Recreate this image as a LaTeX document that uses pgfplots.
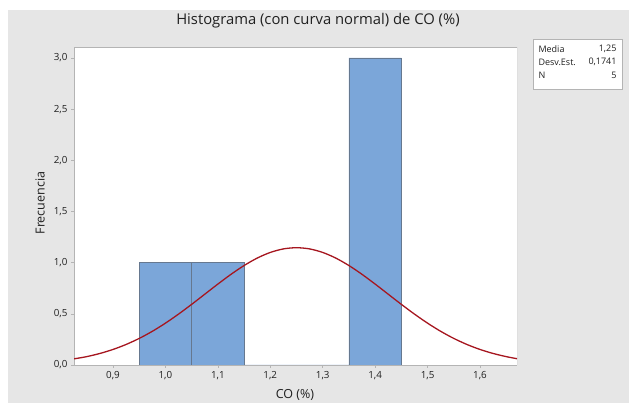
\documentclass[border=0pt]{standalone}
\usepackage{pgfplots}
\pgfplotsset{compat=1.18}
\usepackage{fontspec}
\setmainfont{Open Sans}
\definecolor{bgray}{HTML}{E6E6E6}
\definecolor{barfill}{HTML}{7BA6D9}
\definecolor{baredge}{HTML}{66788F}
\definecolor{curve}{HTML}{A6161F}
\definecolor{frame}{HTML}{B4B4B4}
\definecolor{txt}{HTML}{202020}
\begin{document}
\begin{tikzpicture}[x=1pt,y=1pt]
\useasboundingbox (0,0) rectangle (629,403);
\fill[white] (0,0) rectangle (629,403);
\fill[bgray] (8,0) rectangle (629,393);
\node[font=\fontsize{14.8}{17}\selectfont, text=txt] at (318,382) {Histograma (con curva normal) de CO (\%)};
\node[font=\fontsize{12.5}{14}\selectfont, text=txt] at (295,8) {CO (\%)};
\node[font=\fontsize{12.5}{14}\selectfont, rotate=90, text=txt] at (40,200) {Frecuencia};
\draw[frame, fill=white] (533,314) rectangle (622,364);
\node[font=\fontsize{9}{10}\selectfont, anchor=west, text=txt] at (535,354) {Media};
\node[font=\fontsize{9}{10}\selectfont, anchor=west, text=txt] at (535,341) {Desv.Est.};
\node[font=\fontsize{9}{10}\selectfont, anchor=west, text=txt] at (535,328) {N};
\node[font=\fontsize{9}{10}\selectfont, anchor=east, text=txt] at (620,354) {1,25};
\node[font=\fontsize{9}{10}\selectfont, anchor=east, text=txt] at (620,341) {0,1741};
\node[font=\fontsize{9}{10}\selectfont, anchor=east, text=txt] at (620,328) {5};
\begin{axis}[
  at={(74pt,38pt)}, anchor=south west,
  scale only axis, width=443pt, height=318pt,
  xmin=0.8256, xmax=1.6706, ymin=0, ymax=3.107,
  axis background/.style={fill=white},
  axis line style={frame},
  axis x line*=bottom, axis y line*=left,
  xtick={0.9,1.0,...,1.6}, ytick={0,0.5,...,3.0},
  xticklabels={{0,9},{1,0},{1,1},{1,2},{1,3},{1,4},{1,5},{1,6}},
  yticklabels={{0,0},{0,5},{1,0},{1,5},{2,0},{2,5},{3,0}},
  tick align=outside, tick style={frame, line width=0.6pt}, major tick length=3pt,
  ticklabel style={font=\fontsize{9.8}{11}\selectfont, text=txt},
  /pgf/number format/assume math mode=true,
  clip=true,
]
\draw[frame] (rel axis cs:0,0) rectangle (rel axis cs:1,1);
\addplot[ybar interval, fill=barfill, draw=baredge, line width=0.8pt] coordinates {
(0.95,1) (1.05,1) (1.15,0) (1.25,0) (1.35,3) (1.45,3)};
\addplot[curve, line width=1.3pt, smooth] coordinates {
(0.8256,0.0600)(0.85,0.0818)(0.875,0.1127)(0.9,0.1519)(0.925,0.2007)(0.95,0.2597)(0.975,0.3291)
(1.0,0.4088)(1.025,0.4973)(1.05,0.5924)(1.075,0.6915)(1.1,0.7906)(1.125,0.8856)
(1.15,0.9717)(1.175,1.0444)(1.2,1.0997)(1.225,1.1342)(1.25,1.1460)
(1.275,1.1342)(1.3,1.0997)(1.325,1.0444)(1.35,0.9717)(1.375,0.8856)(1.4,0.7906)
(1.425,0.6915)(1.45,0.5924)(1.475,0.4973)(1.5,0.4088)(1.525,0.3291)(1.55,0.2597)
(1.575,0.2007)(1.6,0.1519)(1.625,0.1127)(1.65,0.0818)(1.6706,0.0615)};
\end{axis}
\end{tikzpicture}
\end{document}
